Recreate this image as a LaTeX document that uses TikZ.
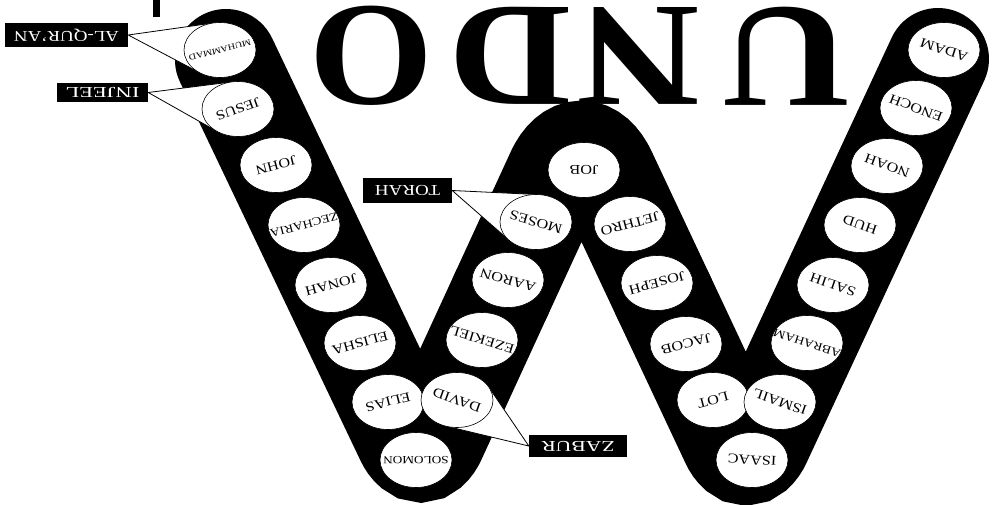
\documentclass[tikz,border=0pt]{standalone}
\usepackage{fontspec}
\setmainfont{Liberation Serif}
\usepackage{graphicx}
\usetikzlibrary{calc}
\tikzset{
  band/.style={line width=102pt, line cap=round, draw=black},
  disc/.style={fill=white, draw=black, line width=0.6pt},
  callout/.style={fill=white, draw=black, line width=0.8pt, line join=round},
  lbl/.style={fill=black, text=white, inner sep=0pt, font=\fontsize{14}{14}\selectfont},
  big/.style={inner sep=0pt, rotate=180, font=\fontsize{148}{148}\selectfont\bfseries},
}
\newcommand\stretchname[1]{\scalebox{1.2}[1]{#1}}
\begin{document}
\begin{tikzpicture}[x=1pt,y=-1pt]
\useasboundingbox (0,0) rectangle (998,504);
% title letters
\node[big] (lO) at (371.5,56) {\scalebox{1.08}[1]{O}};
\node[big] (lD) at (510,56) {\scalebox{1.15}[1]{D}};
\node[big] (lN) at (639,56) {\scalebox{1.15}[1]{N}};
\node[big] (lU) at (786,56) {\scalebox{1.22}[1]{U}};
\fill (153,0) rectangle (160,17);
% band
\coordinate (bA) at (226,60);
\coordinate (bB) at (421,469);
\coordinate (bC) at (581,121);
\coordinate (bD) at (746,472);
\coordinate (bE) at (938,59);
\coordinate (mBC) at ($(bB)!0.5!(bC)$);
\coordinate (mCD) at ($(bC)!0.5!(bD)$);
\draw[band, rounded corners=34pt] (bA) -- (bB) -- (mBC);
\draw[band, rounded corners=58pt] (mBC) -- (bC) -- (mCD);
\draw[band, rounded corners=34pt] (mCD) -- (bD) -- (bE);
% centres
\foreach \n/\x/\y in {MUHAMMAD/220/50, JESUS/238/109, JOHN/276/165, ZECHARIA/304/225, JONAH/331/285, ELISHA/360/343, ELIAS/388/402, SOLOMON/416/460, DAVID/457/400, EZEKIEL/482/340, AARON/508/280, MOSES/536/222, JOB/584/170, JETHRO/630/224, JOSEPH/657/283, JACOB/686/344, LOT/713/400, ISAAC/752/460, ISMAIL/780/402, ABRAHAM/807/343, SALIH/833/285, HUD/860/225, NOAH/887/166, ENOCH/916/108, ADAM/944/50}
  {\coordinate (c\n) at (\x,\y);}
% label boxes (positions)
\node[lbl, minimum width=123pt, minimum height=24pt] (quran) at (66.5,35) {\rotatebox{180}{\resizebox{105pt}{10pt}{AL-QUR'AN}}};
\node[lbl, minimum width=91pt, minimum height=19pt] (injeel) at (102.5,92.5) {\rotatebox{180}{\resizebox{74pt}{10pt}{INJEEL}}};
\node[lbl, minimum width=89pt, minimum height=25pt] (torah) at (407.5,190.5) {\rotatebox{180}{\resizebox{65pt}{10pt}{TORAH}}};
\node[lbl, minimum width=98pt, minimum height=22pt] (zabur) at (578,446) {\rotatebox{180}{\resizebox{73pt}{10pt}{ZABUR}}};
% callout wedges
\draw[callout] (quran.east) -- ($(cMUHAMMAD)+(259.3:36 and 27.5)$) -- ($(cMUHAMMAD)+(124.3:36 and 27.5)$) -- cycle;
\draw[callout] (injeel.east) -- ($(cJESUS)+(260.8:36 and 27.5)$) -- ($(cJESUS)+(126.5:36 and 27.5)$) -- cycle;
\draw[callout] (torah.east) -- ($(cMOSES)+(271.7:36 and 27.5)$) -- ($(cMOSES)+(137.6:36 and 27.5)$) -- cycle;
\draw[callout] (zabur.west) -- ($(cDAVID)+(103.3:36 and 27.5)$) -- ($(cDAVID)+(330.5:36 and 27.5)$) -- cycle;
% discs
\foreach \n in {MUHAMMAD, JESUS, JOHN, ZECHARIA, JONAH, ELISHA, ELIAS, SOLOMON, DAVID, EZEKIEL, AARON, MOSES, JOB, JETHRO, JOSEPH, JACOB, LOT, ISAAC, ISMAIL, ABRAHAM, SALIH, HUD, NOAH, ENOCH, ADAM}
  {\path[disc] (c\n) ellipse [x radius=36, y radius=27.5];}
% redraw label boxes on top
\node[lbl, minimum width=123pt, minimum height=24pt] (quranB) at (quran) {\rotatebox{180}{\resizebox{105pt}{10pt}{AL-QUR'AN}}};
\node[lbl, minimum width=91pt, minimum height=19pt] (injeelB) at (injeel) {\rotatebox{180}{\resizebox{74pt}{10pt}{INJEEL}}};
\node[lbl, minimum width=89pt, minimum height=25pt] (torahB) at (torah) {\rotatebox{180}{\resizebox{65pt}{10pt}{TORAH}}};
\node[lbl, minimum width=98pt, minimum height=22pt] (zaburB) at (zabur) {\rotatebox{180}{\resizebox{73pt}{10pt}{ZABUR}}};
% names
\foreach \n/\a/\s in {MUHAMMAD/195/8.5, JESUS/200/13.5, JOHN/195/13.5, ZECHARIA/195/11.5, JONAH/195/13.5, ELISHA/195/13.5, ELIAS/194/13.5, SOLOMON/180/11, DAVID/160/13.5, EZEKIEL/163/13.5, AARON/164/13.5, MOSES/164/13.5, JOB/180/13.5, JETHRO/195/13.5, JOSEPH/195/13.5, JACOB/195/13.5, LOT/195/13.5, ISAAC/177/13.5, ISMAIL/161/13.5, ABRAHAM/162/11.5, SALIH/161/13.5, HUD/161/13.5, NOAH/160/13.5, ENOCH/159/13.5, ADAM/162/13.5}
  {\node[inner sep=0pt, rotate=\a, font=\fontsize{\s}{\s}\selectfont] (t\n) at (c\n) {\stretchname{\n}};}
\end{tikzpicture}
\end{document}
